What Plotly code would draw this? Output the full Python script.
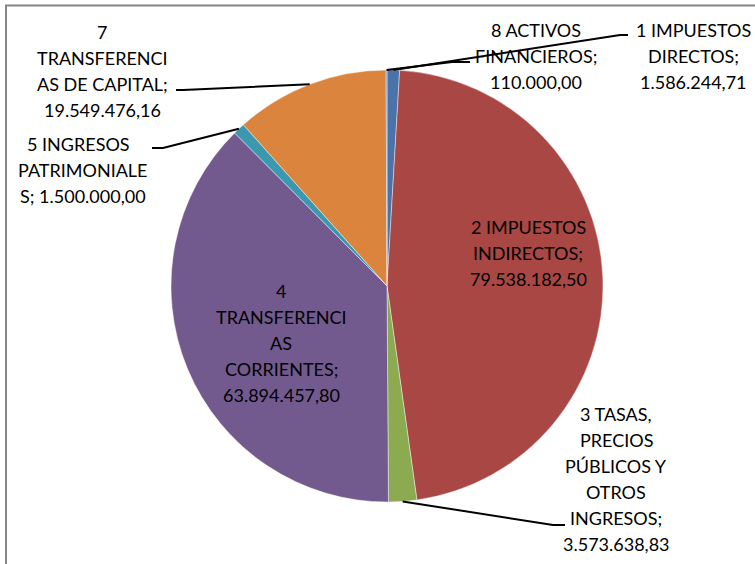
import math
import plotly.graph_objects as go

# ---- data ----
codes = ["1", "2", "3", "4", "5", "7", "8"]
names = ["IMPUESTOS DIRECTOS", "IMPUESTOS INDIRECTOS", "TASAS, PRECIOS PÚBLICOS Y OTROS INGRESOS",
         "TRANSFERENCIAS CORRIENTES", "INGRESOS PATRIMONIALES", "TRANSFERENCIAS DE CAPITAL",
         "ACTIVOS FINANCIEROS"]
values = [1586244.71, 79538182.50, 3573638.83, 63894457.80, 1500000.00, 19549476.16, 110000.00]
value_labels = ["1.586.244,71", "79.538.182,50", "3.573.638,83", "63.894.457,80",
                "1.500.000,00", "19.549.476,16", "110.000,00"]
# wrapped label text (as in the reference)
label_lines = [
    ["1 IMPUESTOS", "DIRECTOS;", "1.586.244,71"],
    ["2 IMPUESTOS", "INDIRECTOS;", "79.538.182,50"],
    ["3 TASAS,", "PRECIOS", "PÚBLICOS Y", "OTROS", "INGRESOS;", "3.573.638,83"],
    ["4", "TRANSFERENCI", "AS", "CORRIENTES;", "63.894.457,80"],
    ["5 INGRESOS\u00a0\u00a0", "PATRIMONIALE", "S; 1.500.000,00"],
    ["7", "TRANSFERENCI", "AS DE CAPITAL;", "19.549.476,16"],
    ["8 ACTIVOS", "FINANCIEROS;", "110.000,00"],
]
colors = ["#4A74A9", "#A94744", "#8CAA50", "#725A8F", "#3C98AF", "#DB843D", "#4A74A9"]

W, H = 755, 564
CX, CY, R = 387, 286, 216
LINE_H = 26
FONT = dict(family="Lato", size=18, color="black")

# label layout (pixel positions of label block centres) and leader endpoints
label_pos = {0: (693, 56), 1: (528, 253), 2: (616, 479), 3: (281, 343),
             4: (83, 170), 5: (102, 71), 6: (536, 56)}
leaders = {0: [(620, 35), (628, 35)], 2: [(553, 525), (565, 525)],
           4: [(163, 148), (152, 148)], 5: [(183, 90), (176, 90)],
           6: [(452, 62), (470, 62)]}

def px(x):
    return x / W

def py(y):
    return 1 - y / H

fig = go.Figure(go.Pie(
    labels=[c + " " + n for c, n in zip(codes, names)],
    values=values,
    sort=False,
    direction="clockwise",
    rotation=0,
    marker=dict(colors=colors, line=dict(color="rgba(255,255,255,0.6)", width=0.7)),
    textinfo="none",
    hoverinfo="label+value+percent",
    showlegend=False,
    domain=dict(x=[px(CX - R), px(CX + R)], y=[py(CY + R), py(CY - R)]),
))

total = sum(values)
cum = 0.0
shapes = []
annotations = []
for i, v in enumerate(values):
    mid = (cum + v / 2) / total * 360.0
    cum += v
    ex = CX + R * math.sin(math.radians(mid))
    ey = CY - R * math.cos(math.radians(mid))
    if i in leaders:
        pts = [(ex, ey)] + leaders[i]
        path = "M " + " L ".join(f"{px(x):.5f},{py(y):.5f}" for x, y in pts)
        shapes.append(dict(type="path", xref="paper", yref="paper", path=path,
                           line=dict(color="black", width=2)))
    lx, ly = label_pos[i]
    lines = label_lines[i]
    n = len(lines)
    for k, t in enumerate(lines):
        yy = ly + (k - (n - 1) / 2) * LINE_H
        annotations.append(dict(
            x=px(lx), y=py(yy), xref="paper", yref="paper",
            text=t, showarrow=False,
            xanchor="center", yanchor="middle", align="center",
            font=FONT,
        ))

# chart border (cropped at right/bottom in the reference)
shapes.append(dict(type="rect", xref="paper", yref="paper",
                   x0=px(6), x1=px(W + 20), y0=py(5.5), y1=py(H + 20),
                   line=dict(color="#868686", width=2), fillcolor="rgba(0,0,0,0)"))

fig.update_layout(
    width=W, height=H,
    margin=dict(l=0, r=0, t=0, b=0),
    paper_bgcolor="white", plot_bgcolor="white",
    shapes=shapes, annotations=annotations,
)
fig.write_html("out.html", config={"displayModeBar": False},
               post_script="document.body.style.margin='0px';")
